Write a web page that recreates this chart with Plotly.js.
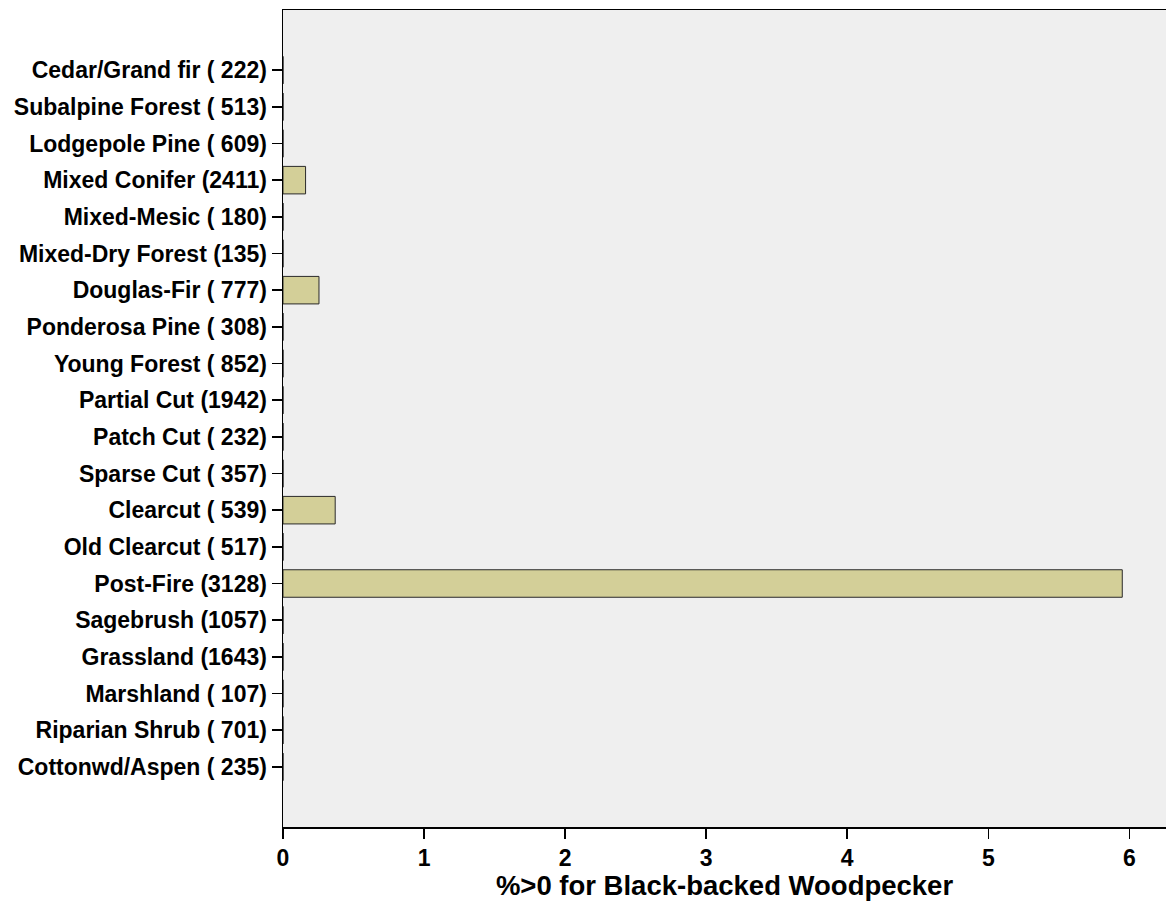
<!DOCTYPE html>
<html><head><meta charset="utf-8">
<script src="https://cdn.plot.ly/plotly-3.0.1.min.js"></script>
<style>body{margin:0;background:#fff}#chart{width:1166px;height:901px}</style>
</head><body><div id="chart"></div>
<script>
const categories = [
  "Cedar/Grand fir ( 222)", "Subalpine Forest ( 513)", "Lodgepole Pine ( 609)",
  "Mixed Conifer (2411)", "Mixed-Mesic ( 180)", "Mixed-Dry Forest (135)",
  "Douglas-Fir ( 777)", "Ponderosa Pine ( 308)", "Young Forest ( 852)",
  "Partial Cut (1942)", "Patch Cut ( 232)", "Sparse Cut ( 357)",
  "Clearcut ( 539)", "Old Clearcut ( 517)", "Post-Fire (3128)",
  "Sagebrush (1057)", "Grassland (1643)", "Marshland ( 107)",
  "Riparian Shrub ( 701)", "Cottonwd/Aspen ( 235)"
];
const values = [0, 0, 0, 0.16, 0, 0, 0.255, 0, 0, 0, 0, 0, 0.37, 0, 5.95, 0, 0, 0, 0, 0];
const xTicks = [0, 1, 2, 3, 4, 5, 6];

const trace = {
  type: "bar", orientation: "h",
  x: values, y: categories,
  width: 0.75,
  marker: {color: "#d3cf98", line: {color: "#2a2a2a", width: 1}},
  hoverinfo: "x+y"
};
const fam = "Liberation Sans";
const layout = {
  width: 1166, height: 901,
  margin: {l: 283, r: 0, t: 10, b: 74, pad: 0},
  paper_bgcolor: "#ffffff", plot_bgcolor: "#efefef",
  showlegend: false,
  font: {family: fam, color: "#000", size: 21},
  xaxis: {
    range: [0, 6.26], tickmode: "array", tickvals: xTicks,
    showgrid: false, zeroline: false, automargin: false,
    showline: true, linecolor: "#000", linewidth: 1.5, mirror: true,
    ticks: "outside", ticklen: 10, tickwidth: 1.5, tickcolor: "#000",
    tickfont: {family: fam, size: 23, color: "#000", weight: "bold"},
    title: {text: "%>0 for Black-backed Woodpecker", standoff: 8,
            font: {family: fam, size: 27.5, color: "#000", weight: "bold"}}
  },
  yaxis: {
    type: "category", categoryorder: "array", categoryarray: categories,
    range: [categories.length - 1 + 1.64, -1.64],
    showgrid: false, zeroline: false, automargin: false,
    showline: true, linecolor: "#000", linewidth: 1.5,
    ticks: "outside", ticklen: 10, tickwidth: 1.5, tickcolor: "#000",
    tickfont: {family: fam, size: 23, color: "#000", weight: "bold"}
  }
};
Plotly.newPlot("chart", [trace], layout, {displayModeBar: false, staticPlot: true});
</script></body></html>
